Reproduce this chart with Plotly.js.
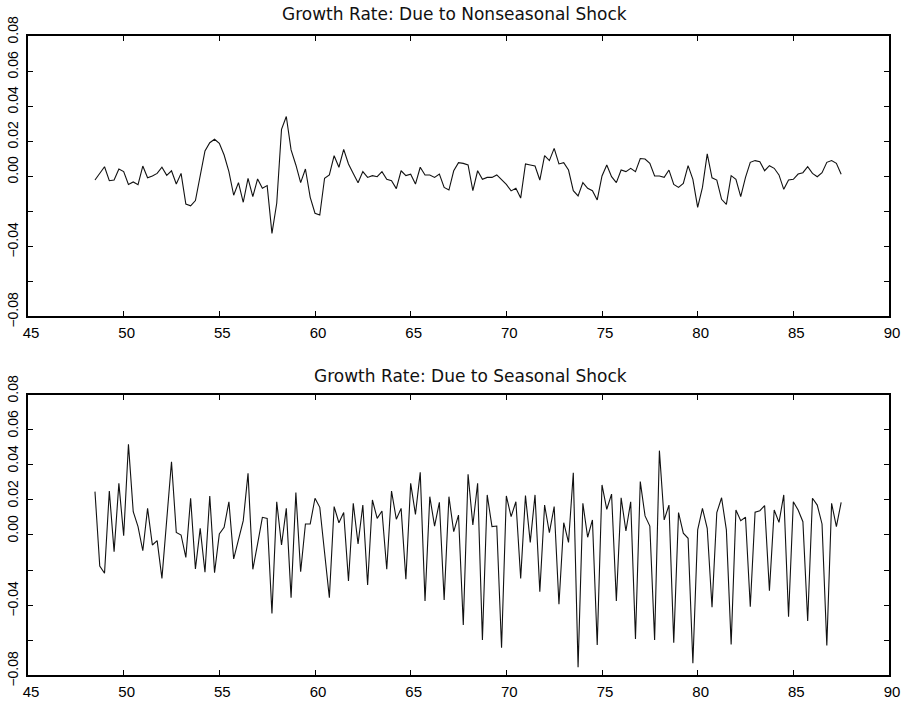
<!DOCTYPE html>
<html>
<head>
<meta charset="utf-8">
<script src="https://cdn.plot.ly/plotly-3.0.1.min.js"></script>
<style>
html,body{margin:0;padding:0;background:#fff;}
#chart{width:903px;height:702px;}
</style>
</head>
<body>
<div id="chart"></div>
<script>
// Quarterly observations, first at 1948.5, one every quarter year
const startYear = 48.5;
const stepYear = 0.25;

const nonseasonal = [
 -0.0023, 0.0015, 0.0053, -0.0027, -0.0023, 0.0040, 0.0025, -0.0048, -0.0034, -0.0050,
  0.0057, -0.0010, 0.0000, 0.0015, 0.0050, 0.0004, 0.0030, -0.0046, 0.0015, -0.0160,
 -0.0170, -0.0140, -0.0008, 0.0143, 0.0190, 0.0210, 0.0187, 0.0120, 0.0025, -0.0110,
 -0.0038, -0.0150, -0.0013, -0.0118, -0.0017, -0.0070, -0.0055, -0.0328, -0.0156, 0.0267,
  0.0340, 0.0149, 0.0063, -0.0038, 0.0040, -0.0122, -0.0213, -0.0223, -0.0013, 0.0006,
  0.0116, 0.0050, 0.0152, 0.0069, 0.0015, -0.0038, 0.0025, -0.0008, 0.0002, -0.0004,
  0.0025, -0.0019, -0.0027, -0.0072, 0.0030, 0.0002, 0.0010, -0.0046, 0.0050, 0.0006,
  0.0006, -0.0008, 0.0011, -0.0065, -0.0080, 0.0030, 0.0076, 0.0072, 0.0063, -0.0084,
  0.0030, -0.0019, -0.0008, -0.0008, 0.0006, -0.0019, -0.0048, -0.0085, -0.0070, -0.0126,
  0.0069, 0.0063, 0.0057, -0.0023, 0.0116, 0.0088, 0.0158, 0.0069, 0.0076, 0.0034,
 -0.0084, -0.0114, -0.0038, -0.0070, -0.0084, -0.0137, 0.0000, 0.0063, -0.0004, -0.0038,
  0.0034, 0.0025, 0.0044, 0.0025, 0.0100, 0.0097, 0.0072, 0.0000, 0.0000, -0.0008,
  0.0034, -0.0048, -0.0065, -0.0042, 0.0059, -0.0019, -0.0179, -0.0065, 0.0126, -0.0010,
 -0.0023, -0.0133, -0.0162, 0.0002, -0.0019, -0.0118, -0.0008, 0.0078, 0.0088, 0.0082,
  0.0030, 0.0059, 0.0044, 0.0006, -0.0076, -0.0023, -0.0019, 0.0011, 0.0019, 0.0053,
  0.0015, -0.0004, 0.0019, 0.0078, 0.0088, 0.0072, 0.0010
];

const seasonal = [
  0.0248, -0.0177, -0.0219, 0.0251, -0.0095, 0.0295, -0.0004, 0.0518, 0.0133, 0.0048,
 -0.0090, 0.0152, -0.0057, -0.0032, -0.0248, 0.0080, 0.0419, 0.0015, 0.0000, -0.0128,
  0.0210, -0.0194, 0.0038, -0.0213, 0.0223, -0.0215, 0.0006, 0.0044, 0.0190, -0.0137,
 -0.0029, 0.0082, 0.0352, -0.0196, -0.0051, 0.0101, 0.0095, -0.0448, 0.0190, -0.0057,
  0.0152, -0.0358, 0.0242, -0.0210, 0.0063, 0.0063, 0.0210, 0.0158, -0.0100, -0.0358,
  0.0162, 0.0070, 0.0128, -0.0263, 0.0181, -0.0051, 0.0171, -0.0286, 0.0200, 0.0095,
  0.0137, -0.0196, 0.0251, 0.0090, 0.0152, -0.0253, 0.0295, 0.0118, 0.0358, -0.0377,
  0.0219, 0.0051, 0.0187, -0.0371, 0.0219, 0.0019, 0.0114, -0.0514, 0.0347, 0.0057,
  0.0295, -0.0600, 0.0229, 0.0048, 0.0051, -0.0644, 0.0223, 0.0105, 0.0190, -0.0248,
  0.0225, -0.0042, 0.0229, -0.0324, 0.0171, 0.0013, 0.0162, -0.0396, 0.0070, -0.0042,
  0.0356, -0.0756, 0.0181, -0.0013, 0.0086, -0.0629, 0.0286, 0.0147, 0.0234, -0.0377,
  0.0213, 0.0023, 0.0190, -0.0594, 0.0305, 0.0109, 0.0051, -0.0600, 0.0482, 0.0086,
  0.0171, -0.0615, 0.0128, 0.0010, -0.0019, -0.0733, 0.0029, 0.0152, 0.0038, -0.0413,
  0.0128, 0.0213, 0.0029, -0.0625, 0.0143, 0.0082, 0.0101, -0.0410, 0.0130, 0.0139,
  0.0168, -0.0318, 0.0143, 0.0072, 0.0229, -0.0467, 0.0190, 0.0143, 0.0076, -0.0491,
  0.0210, 0.0171, 0.0063, -0.0632, 0.0181, 0.0048, 0.0187
];

const titles = ["Growth Rate: Due to Nonseasonal Shock", "Growth Rate: Due to Seasonal Shock"];
const xTickVals = [45, 50, 55, 60, 65, 70, 75, 80, 85, 90];
const yTickVals = [-0.08, -0.06, -0.04, -0.02, 0.00, 0.02, 0.04, 0.06, 0.08];
const yTickText = ["\u22120.08", "", "\u22120.04", "", "0.00", "0.02", "0.04", "0.06", "0.08"];

const lineStyle = {color: '#111111', width: 1.1};

const data = [
  {type: 'scatter', mode: 'lines', x0: startYear, dx: stepYear, y: nonseasonal,
   line: lineStyle, xaxis: 'x', yaxis: 'y', hoverinfo: 'skip'},
  {type: 'scatter', mode: 'lines', x0: startYear, dx: stepYear, y: seasonal,
   line: lineStyle, xaxis: 'x2', yaxis: 'y2', hoverinfo: 'skip'}
];

function xAxis(anchor) {
  return {
    anchor: anchor, domain: [0, 1], range: [45, 90],
    tickmode: 'array', tickvals: xTickVals, ticktext: xTickVals.map(String),
    ticks: 'inside', ticklen: 5, tickwidth: 1, tickcolor: '#000',
    showline: true, linewidth: 2, linecolor: '#000', mirror: 'ticks',
    showgrid: false, zeroline: false,
    tickfont: {family: 'Liberation Sans, Arial, sans-serif', size: 15, color: '#000'},
    ticklabelshift: 3, ticklabelstandoff: 2
  };
}
function yAxis(anchor, domain) {
  return {
    anchor: anchor, domain: domain, range: [-0.08, 0.08],
    tickmode: 'array', tickvals: yTickVals, ticktext: yTickText,
    ticks: 'inside', ticklen: 5, tickwidth: 1, tickcolor: '#000',
    showline: true, linewidth: 2, linecolor: '#000', mirror: 'ticks',
    showgrid: false, zeroline: false, tickangle: -90,
    tickfont: {family: 'Liberation Sans, Arial, sans-serif', size: 14, color: '#000'},
    ticklabelshift: -4, ticklabelstandoff: 2
  };
}

const layout = {
  width: 903, height: 702,
  margin: {l: 28, r: 14, t: 36, b: 27, pad: 0},
  paper_bgcolor: '#fff', plot_bgcolor: '#fff',
  showlegend: false,
  xaxis: xAxis('y'),
  yaxis: yAxis('x', [0.5618, 1]),
  xaxis2: xAxis('y2'),
  yaxis2: yAxis('x2', [0, 0.4382]),
  annotations: [
    {text: titles[0], xref: 'paper', yref: 'paper', x: 0.698, y: 1.0344,
     xanchor: 'right', yanchor: 'middle', showarrow: false,
     font: {family: 'DejaVu Sans, sans-serif', size: 17, color: '#111'}},
    {text: titles[1], xref: 'paper', yref: 'paper', x: 0.698, y: 0.468,
     xanchor: 'right', yanchor: 'middle', showarrow: false,
     font: {family: 'DejaVu Sans, sans-serif', size: 17, color: '#111'}}
  ]
};

Plotly.newPlot('chart', data, layout, {staticPlot: true, displayModeBar: false});
</script>
</body>
</html>
